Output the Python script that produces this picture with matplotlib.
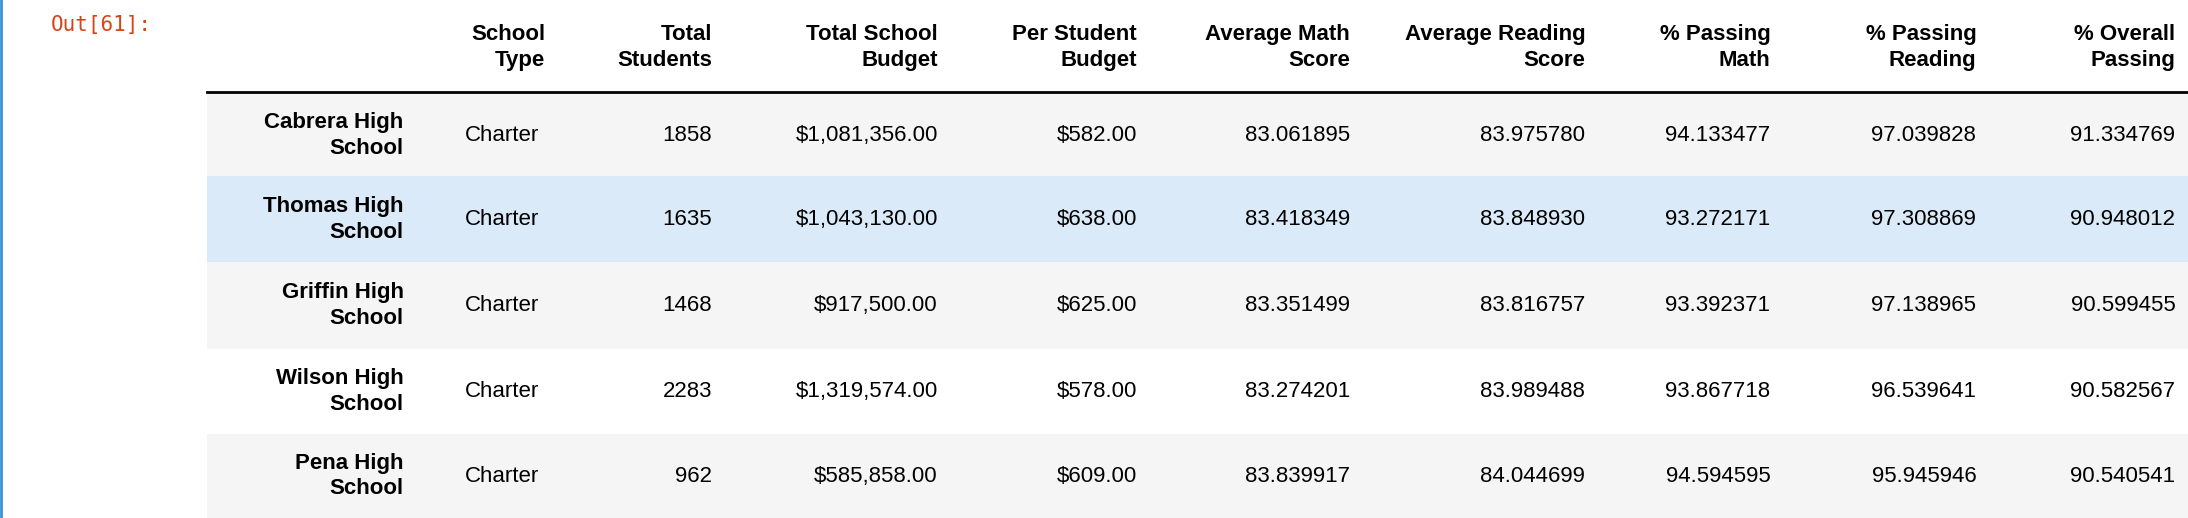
import matplotlib.pyplot as plt
from matplotlib.patches import Rectangle

plt.rcParams['font.family'] = ['Liberation Sans', 'DejaVu Sans']

headers = ['School\nType', 'Total\nStudents', 'Total School\nBudget', 'Per Student\nBudget',
           'Average Math\nScore', 'Average Reading\nScore', '% Passing\nMath',
           '% Passing\nReading', '% Overall\nPassing']
schools = ['Cabrera High\nSchool', 'Thomas High\nSchool', 'Griffin High\nSchool',
           'Wilson High\nSchool', 'Pena High\nSchool']
school_type = ['Charter'] * 5
students = [1858, 1635, 1468, 2283, 962]
budget = [1081356.00, 1043130.00, 917500.00, 1319574.00, 585858.00]
per_student = [582.00, 638.00, 625.00, 578.00, 609.00]
avg_math = [83.061895, 83.418349, 83.351499, 83.274201, 83.839917]
avg_reading = [83.975780, 83.848930, 83.816757, 83.989488, 84.044699]
pass_math = [94.133477, 93.272171, 93.392371, 93.867718, 94.594595]
pass_reading = [97.039828, 97.308869, 97.138965, 96.539641, 95.945946]
overall = [91.334769, 90.948012, 90.599455, 90.582567, 90.540541]

W, H = 1561, 370
fig = plt.figure(figsize=(21.88, 5.18), dpi=100)
ax = fig.add_axes([0, 0, 1, 1])
ax.set_xlim(0, W)
ax.set_ylim(H, 0)
ax.axis('off')

ax.plot([1, 1], [0, H], color='#3b8fd9', lw=2)
ax.text(36, 18, 'Out[61]:', color='#d84315', family='DejaVu Sans Mono', fontsize=15, va='center')

col_right = [389, 508, 669, 811, 963, 1131, 1263, 1410, 1552]
idx_right = 288
fs = 16
ls = 1.3

for x, h in zip(col_right, headers):
    ax.text(x, 34, h, ha='right', va='center', fontsize=fs, fontweight='bold', linespacing=ls)
ax.plot([148, W], [66, 66], color='black', lw=2)

row_top = [67, 126, 187, 249, 310]
row_h = [59, 61, 62, 61, 60]
for i in range(5):
    bg = '#dbeaf8' if i == 1 else ('#f5f5f5' if i % 2 == 0 else 'white')
    ax.add_patch(Rectangle((148, row_top[i]), W - 148, row_h[i], color=bg, lw=0))
    yc = row_top[i] + row_h[i] / 2
    ax.text(idx_right, yc, schools[i], ha='right', va='center', fontsize=fs,
            fontweight='bold', linespacing=ls)
    vals = [school_type[i], f'{students[i]}', f'${budget[i]:,.2f}', f'${per_student[i]:,.2f}',
            f'{avg_math[i]:.6f}', f'{avg_reading[i]:.6f}', f'{pass_math[i]:.6f}',
            f'{pass_reading[i]:.6f}', f'{overall[i]:.6f}']
    for j, v in enumerate(vals):
        if j == 0:
            ax.text(332, yc, v, ha='left', va='center', fontsize=fs)
        else:
            ax.text(col_right[j], yc, v, ha='right', va='center', fontsize=fs)

fig.savefig('out.png', dpi=100)
